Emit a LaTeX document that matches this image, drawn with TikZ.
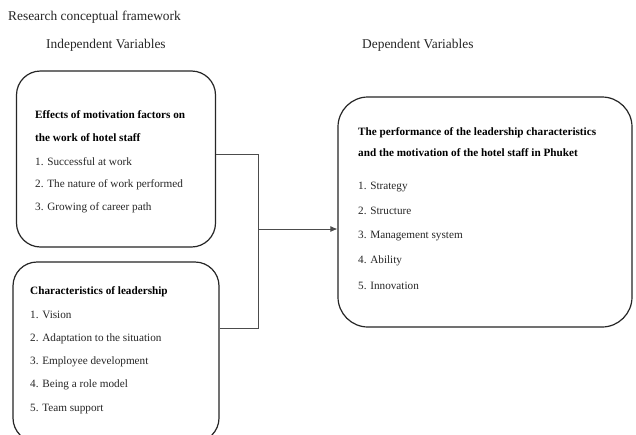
\documentclass[tikz,border=0pt]{standalone}
\usepackage{fontspec}
\setmainfont{Liberation Serif}
\usetikzlibrary{arrows.meta}
\tikzset{
  box/.style={draw=black!85, line width=1.2pt, rounded corners=24pt, inner sep=0pt},
  bigbox/.style={box, rounded corners=30pt},
  txt/.style={anchor=west, inner sep=0pt, font=\fontsize{11.2}{13}\selectfont, text=black!85},
  btxt/.style={txt, font=\fontsize{11.2}{13}\selectfont\bfseries, text=black},
  head/.style={anchor=west, inner sep=0pt, font=\fontsize{13.4}{15}\selectfont, text=black!85},
  conn/.style={draw=black!70, line width=0.8pt},
}
\begin{document}
\begin{tikzpicture}[x=1pt,y=-1pt]
\useasboundingbox[fill=white] (0,0) rectangle (636,434);
\clip (0,0) rectangle (636,434);
\node[head] (title) at (8,17) {Research conceptual framework};
\node[head] (indep) at (46,45) {Independent Variables};
\node[head] (dep) at (362,45) {Dependent Variables};

\node[box, minimum width=199pt, minimum height=176pt] (top) at (116,159) {};
\node[btxt] (t1) at (35,115) {Effects of motivation factors on};
\node[btxt] (t2) at (35,138) {the work of hotel staff};
\node[txt] (t3) at (35,162) {1. Successful at work};
\node[txt] (t4) at (35,185) {2. The nature of work performed};
\node[txt] (t5) at (35,208) {3. Growing of career path};

\node[box, minimum width=206pt, minimum height=180pt] (bot) at (116,352) {};
\node[btxt] (b1) at (30,292) {Characteristics of leadership};
\node[txt] (b2) at (30,315) {1. Vision};
\node[txt] (b3) at (30,339) {2. Adaptation to the situation};
\node[txt] (b4) at (30,362) {3. Employee development};
\node[txt] (b5) at (30,385) {4. Being a role model};
\node[txt] (b6) at (30,409) {5. Team support};

\node[bigbox, minimum width=294pt, minimum height=230pt] (right) at (485,212) {};
\node[btxt] (r1) at (358,133) {The performance of the leadership characteristics};
\node[btxt] (r2) at (358,153) {and the motivation of the hotel staff in Phuket};
\node[txt] (r3) at (358,187) {1. Strategy};
\node[txt] (r4) at (358,211) {2. Structure};
\node[txt] (r5) at (358,236) {3. Management system};
\node[txt] (r6) at (358,261) {4. Ability};
\node[txt] (r7) at (358,286) {5. Innovation};

\coordinate (join) at (258,229);
\draw[conn] ([yshift=5pt]top.east) -| (join);
\draw[conn] ([yshift=24pt]bot.east) -| (join);
\draw[conn, -{Latex[length=7pt,width=6pt]}] (join) -- (join -| right.west);
\end{tikzpicture}
\end{document}
